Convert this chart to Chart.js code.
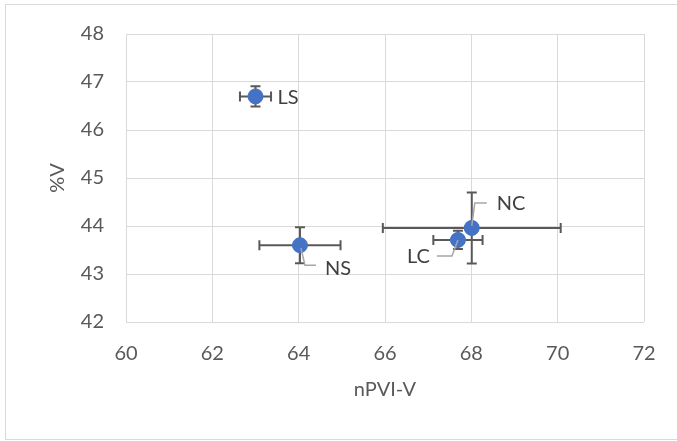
<!DOCTYPE html>
<html>
<head>
<meta charset="utf-8">
<script src="https://cdn.jsdelivr.net/npm/chart.js@4"></script>
<style>
  html, body { margin: 0; padding: 0; background: #fff; }
  #wrap { position: relative; width: 677px; height: 441px; }
</style>
</head>
<body>
<div id="wrap"><canvas id="chart" width="677" height="441"></canvas></div>
<script>
/* ── 데이터 ── */
const pointLabels = ['LS', 'NS', 'NC', 'LC'];
const xValues = [63.0, 64.03, 68.01, 67.69];
const yValues = [46.7, 43.6, 43.96, 43.71];
const xErrors = [0.36, 0.94, 2.06, 0.57];
const yErrors = [0.21, 0.375, 0.74, 0.19];
const xTickRange = [60, 72, 2];
const yTickRange = [42, 48, 1];

/* label placement (pixel offsets from the point; leader line path) */
const labelLayout = {
	LS: { dx: 22, dy: 1, leader: null },
	NS: { dx: 25, dy: 23, leader: [[1, 3], [5, 20], [16, 20]] },
	NC: { dx: 25, dy: -24, leader: [[0, -2], [3, -25], [15, -25]] },
	LC: { dx: -51, dy: 17, leader: [[0, 0], [-6, 16], [-21, 16]] }
};

const FONT = "Lato, 'Open Sans', sans-serif";
const TEXT = '#595959';

/* ── 오차 막대 ── */
const errorBars = {
	id: 'errorBars',
	beforeDatasetsDraw(chart) {
		const { ctx, scales: { x, y } } = chart;
		const cap = 5;
		ctx.save();
		ctx.strokeStyle = '#595959';
		ctx.lineWidth = 2;
		xValues.forEach(function(xv, i) {
			const px = x.getPixelForValue(xv);
			const py = y.getPixelForValue(yValues[i]);
			const x0 = x.getPixelForValue(xv - xErrors[i]);
			const x1 = x.getPixelForValue(xv + xErrors[i]);
			const y0 = y.getPixelForValue(yValues[i] - yErrors[i]);
			const y1 = y.getPixelForValue(yValues[i] + yErrors[i]);
			ctx.beginPath();
			ctx.moveTo(x0, py); ctx.lineTo(x1, py);
			ctx.moveTo(x0, py - cap); ctx.lineTo(x0, py + cap);
			ctx.moveTo(x1, py - cap); ctx.lineTo(x1, py + cap);
			ctx.moveTo(px, y0); ctx.lineTo(px, y1);
			ctx.moveTo(px - cap, y0); ctx.lineTo(px + cap, y0);
			ctx.moveTo(px - cap, y1); ctx.lineTo(px + cap, y1);
			ctx.stroke();
		});
		ctx.restore();
	}
};

/* ── 데이터 라벨 + 지시선 ── */
const dataLabels = {
	id: 'dataLabels',
	afterDatasetsDraw(chart) {
		const { ctx, scales: { x, y } } = chart;
		ctx.save();
		pointLabels.forEach(function(name, i) {
			const px = x.getPixelForValue(xValues[i]);
			const py = y.getPixelForValue(yValues[i]);
			const lay = labelLayout[name];
			if (lay.leader) {
				ctx.strokeStyle = '#a6a6a6';
				ctx.lineWidth = 1.5;
				ctx.beginPath();
				lay.leader.forEach(function(p, k) {
					if (k === 0) ctx.moveTo(px + p[0], py + p[1]);
					else ctx.lineTo(px + p[0], py + p[1]);
				});
				ctx.stroke();
			}
			ctx.fillStyle = '#404040';
			ctx.font = '20px ' + FONT;
			ctx.textAlign = 'left';
			ctx.textBaseline = 'middle';
			ctx.fillText(name, px + lay.dx, py + lay.dy);
		});
		ctx.restore();
	}
};

/* ── 바깥 테두리 ── */
const outerBorder = {
	id: 'outerBorder',
	beforeDraw(chart) {
		const ctx = chart.ctx;
		ctx.save();
		ctx.fillStyle = '#fff';
		ctx.fillRect(0, 0, chart.width, chart.height);
		ctx.strokeStyle = '#d9d9d9';
		ctx.lineWidth = 1;
		ctx.strokeRect(5.5, 4.5, 680, 435);
		ctx.restore();
	}
};

new Chart(document.getElementById('chart'), {
	type: 'scatter',
	data: {
		datasets: [{
			data: xValues.map(function(v, i) { return { x: v, y: yValues[i] }; }),
			backgroundColor: '#4472C4',
			borderColor: '#4472C4',
			borderWidth: 1,
			pointRadius: 7.5,
			pointHoverRadius: 7.5
		}]
	},
	options: {
		responsive: false,
		animation: false,
		layout: { padding: { top: 34, right: 33, bottom: 0, left: 0 } },
		plugins: { legend: { display: false }, tooltip: { enabled: false } },
		scales: {
			x: {
				type: 'linear',
				min: xTickRange[0], max: xTickRange[1],
				ticks: { stepSize: xTickRange[2], padding: 20, color: TEXT, font: { family: FONT, size: 20 } },
				grid: { color: '#d9d9d9', lineWidth: 1, drawTicks: false },
				border: { display: false },
				title: { display: true, text: 'nPVI-V', color: TEXT, font: { family: FONT, size: 20 }, padding: { top: 0, bottom: 39 } },
				afterFit(scale) { scale.height = 441 - 322; }
			},
			y: {
				type: 'linear',
				min: yTickRange[0], max: yTickRange[1],
				ticks: { stepSize: yTickRange[2], padding: 22, color: TEXT, font: { family: FONT, size: 20 } },
				grid: { color: '#d9d9d9', lineWidth: 1, drawTicks: false },
				border: { display: false },
				title: { display: true, text: '%V', color: TEXT, font: { family: FONT, size: 20 }, padding: { top: 46, bottom: 0 } },
				afterFit(scale) { scale.width = 126; }
			}
		}
	},
	plugins: [outerBorder, errorBars, dataLabels]
});
</script>
</body>
</html>
